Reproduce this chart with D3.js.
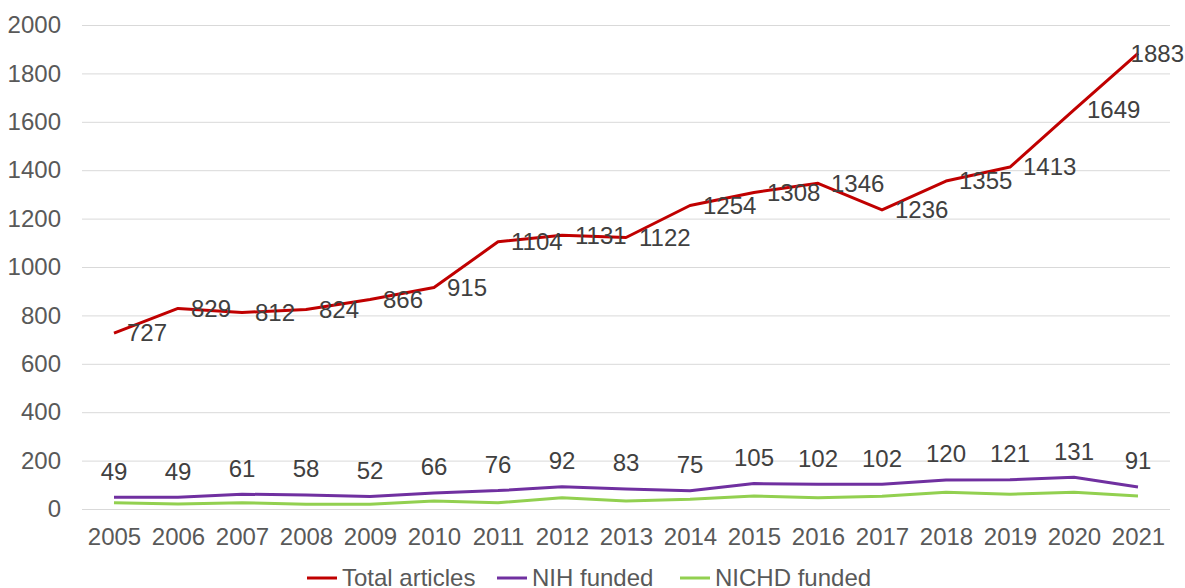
<!DOCTYPE html>
<html>
<head>
<meta charset="utf-8">
<style>
body { margin: 0; background: #fff; }
svg { display: block; font-family: "Liberation Sans", Arial, sans-serif; }
.axis .domain { display: none; }
.axis line { display: none; }
.axis text { fill: #595959; font-size: 24px; }
.grid line { stroke: #d9d9d9; stroke-width: 1; }
.grid .domain { display: none; }
</style>
</head>
<body>
<svg width="1185" height="588"></svg>
<script src="https://d3js.org/d3.v7.min.js"></script>
<script>
var years = ["2005","2006","2007","2008","2009","2010","2011","2012","2013","2014","2015","2016","2017","2018","2019","2020","2021"];
var totalArticles = [727, 829, 812, 824, 866, 915, 1104, 1131, 1122, 1254, 1308, 1346, 1236, 1355, 1413, 1649, 1883];
var nihFunded = [49, 49, 61, 58, 52, 66, 76, 92, 83, 75, 105, 102, 102, 120, 121, 131, 91];
var nichdFunded = [26, 21, 26, 20, 20, 33, 26, 46, 33, 40, 54, 46, 53, 69, 61, 69, 54];
var yTicks = [0, 200, 400, 600, 800, 1000, 1200, 1400, 1600, 1800, 2000];

var svg = d3.select("svg"),
    plotLeft = 82, plotRight = 1170, plotTop = 25, plotBottom = 509;

var x = d3.scalePoint().domain(years).range([plotLeft, plotRight]).padding(0.5);
var y = d3.scaleLinear().domain([0, 2000]).range([plotBottom, plotTop]);

// gridlines
svg.append("g")
    .attr("class", "grid")
    .attr("transform", "translate(" + plotLeft + ",0)")
    .call(d3.axisLeft(y).tickValues(yTicks).tickSize(-(plotRight - plotLeft)).tickFormat(""));

svg.append("g")
    .attr("class", "axis")
    .attr("transform", "translate(61,0)")
    .call(d3.axisLeft(y).tickValues(yTicks).tickSize(0).tickPadding(0).tickFormat(d3.format("d")));

svg.append("g")
    .attr("class", "axis")
    .attr("transform", "translate(0,537)")
    .call(d3.axisBottom(x).tickSize(0).tickPadding(0))
  .selectAll("text").attr("y", 0).attr("dy", "0.35em");

var series = [
  {name: "Total articles", values: totalArticles, color: "#c00000"},
  {name: "NIH funded", values: nihFunded, color: "#7030a0"},
  {name: "NICHD funded", values: nichdFunded, color: "#92d050"}
];

var line = d3.line()
    .x(function(d, i) { return x(years[i]); })
    .y(function(d) { return y(d); });

series.slice().reverse().forEach(function(s) {
  svg.append("path")
      .datum(s.values)
      .attr("fill", "none")
      .attr("stroke", s.color)
      .attr("stroke-width", 3)
      .attr("stroke-linejoin", "round")
      .attr("d", line);
});

// data labels: total to the right (last one pulled in to fit), NIH above
var last = totalArticles.length - 1;
svg.append("g").selectAll("text")
    .data(totalArticles)
  .enter().append("text")
    .attr("x", function(d, i) { return i === last ? 1184 : x(years[i]) + 13; })
    .attr("y", function(d) { return y(d); })
    .attr("dy", "0.35em")
    .attr("text-anchor", function(d, i) { return i === last ? "end" : "start"; })
    .attr("fill", "#404040")
    .attr("font-size", 24)
    .text(function(d) { return d; });

svg.append("g").selectAll("text")
    .data(nihFunded)
  .enter().append("text")
    .attr("x", function(d, i) { return x(years[i]); })
    .attr("y", function(d) { return y(d) - 26; })
    .attr("dy", "0.35em")
    .attr("text-anchor", "middle")
    .attr("fill", "#404040")
    .attr("font-size", 24)
    .text(function(d) { return d; });

// legend
var legendX = [307, 497, 680];
var legend = svg.append("g").selectAll("g")
    .data(series)
  .enter().append("g")
    .attr("transform", function(d, i) { return "translate(" + legendX[i] + ",578)"; });

legend.append("line")
    .attr("x1", 0).attr("x2", 30)
    .attr("stroke", function(d) { return d.color; })
    .attr("stroke-width", 3);

legend.append("text")
    .attr("x", 35)
    .attr("dy", "0.35em")
    .attr("fill", "#595959")
    .attr("font-size", 24)
    .text(function(d) { return d.name; });
</script>
</body>
</html>
